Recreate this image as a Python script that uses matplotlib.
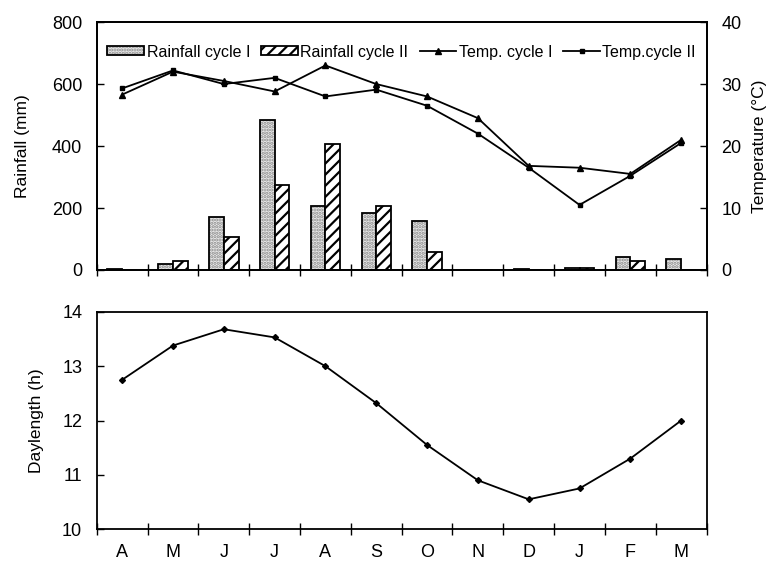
import numpy as np
import matplotlib.pyplot as plt

plt.rcParams['font.family'] = ['Liberation Sans', 'DejaVu Sans']
plt.rcParams['hatch.linewidth'] = 1.6

months = ['A', 'M', 'J', 'J', 'A', 'S', 'O', 'N', 'D', 'J', 'F', 'M']
rain_1 = [3, 20, 170, 485, 205, 185, 157, 0, 2, 7, 43, 35]
rain_2 = [0, 28, 105, 275, 405, 207, 57, 0, 0, 7, 30, 0]
temp_1 = [28.3, 32.0, 30.5, 28.8, 33.0, 30.0, 28.0, 24.5, 16.8, 16.5, 15.5, 21.0]
temp_2 = [29.3, 32.2, 30.0, 31.0, 28.0, 29.1, 26.5, 22.0, 16.5, 10.5, 15.2, 20.5]
daylength = [12.75, 13.38, 13.68, 13.53, 13.0, 12.32, 11.55, 10.9, 10.55, 10.75, 11.3, 12.0]

x = np.arange(len(months))
fs = 13      # tick labels
lfs = 12.5   # axis labels

fig = plt.figure(figsize=(7.68, 5.66), dpi=100)
ax1 = fig.add_axes([0.126, 0.523, 0.794, 0.438])
ax3 = fig.add_axes([0.126, 0.065, 0.794, 0.384])

# top panel: rainfall bars + temperature lines
w = 0.29
b1 = ax1.bar(x - w / 2, rain_1, w, facecolor='#ececec', edgecolor='#8a8a8a', hatch='.....',
             linewidth=0)
b1o = ax1.bar(x - w / 2, rain_1, w, fill=False, edgecolor='black', linewidth=1.3)
b2 = ax1.bar(x + w / 2, rain_2, w, facecolor='white', edgecolor='black', hatch='///',
             linewidth=1.3)
ax1.set_ylim(0, 800)
ax1.set_yticks([0, 200, 400, 600, 800])
ax1.set_ylabel('Rainfall (mm)', fontsize=lfs, labelpad=16)
ax1.set_xlim(-0.5, len(months) - 0.5)
ax1.set_xticks(np.arange(-0.5, len(months)))
ax1.set_xticklabels([])

ax2 = ax1.twinx()
l1, = ax2.plot(x, temp_1, color='black', marker='^', markersize=5, linewidth=1.3)
l2, = ax2.plot(x, temp_2, color='black', marker='s', markersize=2.5, linewidth=1.3)
ax2.set_ylim(0, 40)
ax2.set_yticks([0, 10, 20, 30, 40])
ax2.set_ylabel('Temperature (°C)', fontsize=lfs, labelpad=8)

ax1.legend([(b1[0], b1o[0]), b2[0], l1, l2],
           ['Rainfall cycle I', 'Rainfall cycle II', 'Temp. cycle I', 'Temp.cycle II'],
           loc='upper center', ncol=4, frameon=False, fontsize=11.5,
           bbox_to_anchor=(0.5, 0.935), handlelength=2.3, handleheight=0.5,
           handletextpad=0.15, columnspacing=0.7, borderaxespad=0)

# bottom panel: daylength
ax3.plot(x, daylength, color='black', marker='D', markersize=3, linewidth=1.3)
ax3.set_ylim(10, 14)
ax3.set_yticks([10, 11, 12, 13, 14])
ax3.set_ylabel('Daylength (h)', fontsize=lfs, labelpad=13)
ax3.set_xlim(-0.5, len(months) - 0.5)
ax3.set_xticks(np.arange(-0.5, len(months)))
ax3.set_xticklabels([])
ax3.set_xticks(x, minor=True)
ax3.set_xticklabels(months, minor=True, fontsize=fs)
ax3.tick_params(axis='x', which='minor', length=0, pad=11)

for ax in (ax1, ax2, ax3):
    for s in ax.spines.values():
        s.set_linewidth(1.3)
    ax.tick_params(which='major', direction='in', length=5, width=1, labelsize=fs, pad=10.5)
for ax in (ax1, ax3):
    ax.tick_params(axis='x', which='major', direction='inout', length=9)

fig.savefig('out.png', dpi=100)
